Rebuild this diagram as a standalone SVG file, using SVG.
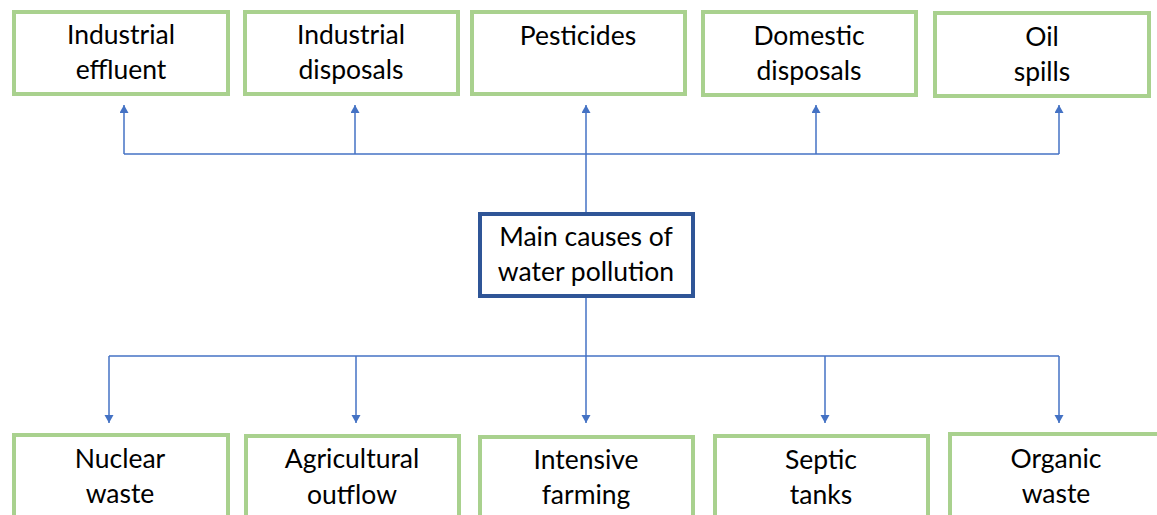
<svg xmlns="http://www.w3.org/2000/svg" width="1157" height="515" viewBox="0 0 1157 515">
<style>
.box{fill:#fff;stroke:#A9D18E;stroke-width:4}
.main{fill:#fff;stroke:#2F5597;stroke-width:4}
.t{font-family:Lato,"Open Sans","Liberation Sans",sans-serif;font-size:26.5px;fill:#000;text-anchor:middle}
.c{fill:none;stroke:#4472C4;stroke-width:1.5}
</style>
<defs>
<marker id="ah" markerWidth="10" markerHeight="10" refX="8" refY="4.5" orient="auto" markerUnits="userSpaceOnUse">
<path d="M0,0 L8,4.5 L0,9 Z" fill="#4472C4"/>
</marker>
</defs>
<rect width="1157" height="515" fill="#fff"/>
<g id="connectors">
<path class="c" d="M586,212 V154"/>
<path class="c" d="M124,154 H1059"/>
<path class="c" d="M124,154 V105" marker-end="url(#ah)"/>
<path class="c" d="M355,154 V105" marker-end="url(#ah)"/>
<path class="c" d="M586,154 V105" marker-end="url(#ah)"/>
<path class="c" d="M816,154 V105" marker-end="url(#ah)"/>
<path class="c" d="M1059,154 V105" marker-end="url(#ah)"/>
<path class="c" d="M586,297 V356"/>
<path class="c" d="M109,356 H1059"/>
<path class="c" d="M109,356 V423" marker-end="url(#ah)"/>
<path class="c" d="M356,356 V423" marker-end="url(#ah)"/>
<path class="c" d="M586,356 V423" marker-end="url(#ah)"/>
<path class="c" d="M825,356 V423" marker-end="url(#ah)"/>
<path class="c" d="M1059,356 V423" marker-end="url(#ah)"/>
</g>
<g id="industrial-effluent"><rect class="box" x="14" y="12" width="214" height="82"/><text class="t" x="121" y="44">Industrial</text><text class="t" x="121" y="79">effluent</text></g>
<g id="industrial-disposals"><rect class="box" x="245" y="12" width="213" height="82"/><text class="t" x="351" y="44">Industrial</text><text class="t" x="351" y="79">disposals</text></g>
<g id="pesticides"><rect class="box" x="472" y="12" width="213" height="82"/><text class="t" x="578" y="45">Pesticides</text></g>
<g id="domestic-disposals"><rect class="box" x="703" y="12" width="213" height="83"/><text class="t" x="809" y="45">Domestic</text><text class="t" x="809" y="80">disposals</text></g>
<g id="oil-spills"><rect class="box" x="935" y="13" width="214" height="83"/><text class="t" x="1042" y="46">Oil</text><text class="t" x="1042" y="81">spills</text></g>
<g id="main"><rect class="main" x="480" y="214" width="213" height="82"/><text class="t" x="586" y="246">Main causes of</text><text class="t" x="586" y="281">water pollution</text></g>
<g id="nuclear-waste"><rect class="box" x="14" y="435" width="214" height="90"/><text class="t" x="120" y="468">Nuclear</text><text class="t" x="120" y="503">waste</text></g>
<g id="agricultural-outflow"><rect class="box" x="246" y="436" width="213" height="90"/><text class="t" x="352" y="468">Agricultural</text><text class="t" x="352" y="504">outflow</text></g>
<g id="intensive-farming"><rect class="box" x="480" y="437" width="213" height="90"/><text class="t" x="586" y="469">Intensive</text><text class="t" x="586" y="504">farming</text></g>
<g id="septic-tanks"><rect class="box" x="715" y="436" width="213" height="90"/><text class="t" x="821" y="469">Septic</text><text class="t" x="821" y="504">tanks</text></g>
<g id="organic-waste"><rect class="box" x="950" y="434" width="214" height="90"/><text class="t" x="1056" y="468">Organic</text><text class="t" x="1056" y="503">waste</text></g>
</svg>
